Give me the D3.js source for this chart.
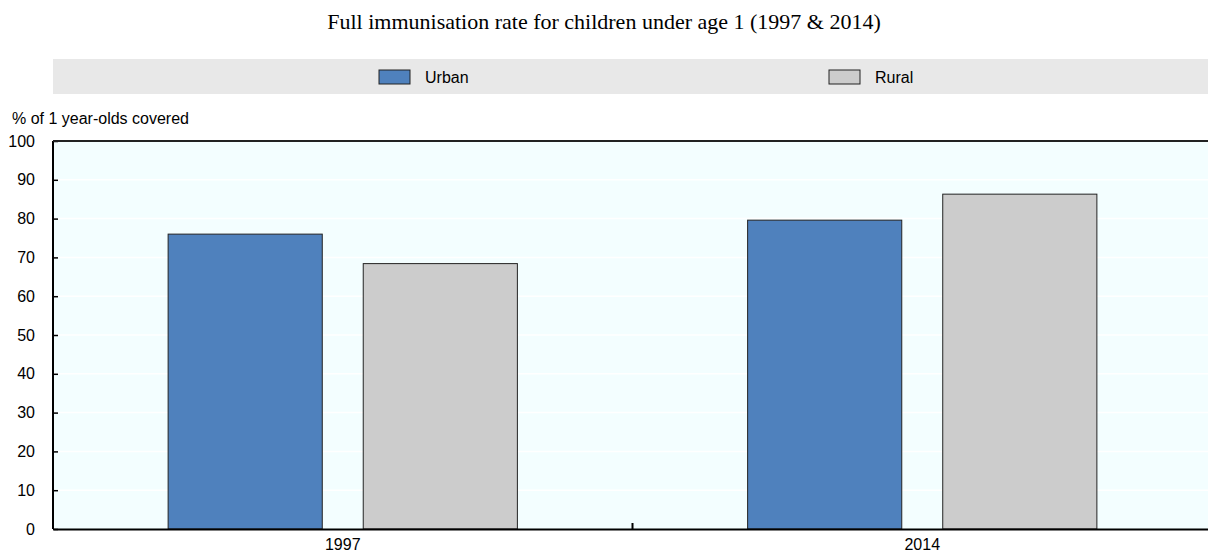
<!DOCTYPE html>
<html>
<head>
<meta charset="utf-8">
<script src="https://cdn.jsdelivr.net/npm/d3@7"></script>
<style>
  body { margin: 0; background: #fff; }
  svg text { font-family: "Liberation Sans", Arial, sans-serif; }
</style>
</head>
<body>
<div id="chart"></div>
<script>
// Data
var years = ["1997", "2014"];
var series = ["Urban", "Rural"];
var urbanValues = [76.0, 79.6];
var ruralValues = [68.4, 86.3];
var yTickValues = [0, 10, 20, 30, 40, 50, 60, 70, 80, 90, 100];

var seriesColors = ["#4f81bd", "#cccccc"];

var W = 1208, H = 556;
var margin = { left: 53, right: -4, top: 141, bottom: 27 };
var width = W - margin.left - margin.right;
var height = H - margin.top - margin.bottom;

var rows = years.map(function (y, i) {
  return { year: y, Urban: urbanValues[i], Rural: ruralValues[i] };
});

const svg = d3.select("#chart")
  .append("svg")
  .attr("width", W)
  .attr("height", H);

// Title
svg.append("text")
  .attr("x", 604)
  .attr("y", 29)
  .attr("text-anchor", "middle")
  .style("font-family", "'Liberation Serif', 'Times New Roman', serif")
  .style("font-size", "22px")
  .text("Full immunisation rate for children under age 1 (1997 & 2014)");

// Legend band
svg.append("rect")
  .attr("x", margin.left)
  .attr("y", 59)
  .attr("width", W - margin.left)
  .attr("height", 35)
  .attr("fill", "#e8e8e8");

var legendX = d3.scaleOrdinal().domain(series).range([379, 829]);
var legend = svg.selectAll(".legend")
  .data(series)
  .enter()
  .append("g")
  .attr("class", "legend")
  .attr("transform", function (d) { return "translate(" + legendX(d) + ",70)"; });

legend.append("rect")
  .attr("width", 31)
  .attr("height", 14)
  .attr("fill", function (d, i) { return seriesColors[i]; })
  .attr("stroke", "#222")
  .attr("stroke-width", 1);

legend.append("text")
  .attr("x", 46)
  .attr("y", 7)
  .attr("dy", "0.35em")
  .style("font-size", "16px")
  .text(function (d) { return d; });

// Y axis title
svg.append("text")
  .attr("x", 12)
  .attr("y", 124)
  .style("font-size", "16px")
  .text("% of 1 year-olds covered");

const g = svg.append("g")
  .attr("transform", `translate(${margin.left},${margin.top})`);

// Scales
const x0 = d3.scaleBand()
  .domain(years)
  .range([0, width])
  .padding(0);

const x1 = d3.scaleBand()
  .domain(series)
  .range([0, x0.bandwidth()])
  .paddingInner(0.21)
  .paddingOuter(0.59);

const yScale = d3.scaleLinear()
  .domain([0, 100])
  .range([height, 0]);

// Plot background
g.append("rect")
  .attr("width", width)
  .attr("height", height)
  .attr("fill", "#f3feff");

// Grid lines
g.selectAll(".grid")
  .data(yTickValues.filter(function (d) { return d > 0 && d < 100; }))
  .enter()
  .append("line")
  .attr("x1", 0)
  .attr("x2", width)
  .attr("y1", function (d) { return yScale(d); })
  .attr("y2", function (d) { return yScale(d); })
  .attr("stroke", "#ffffff")
  .attr("stroke-width", 1.5);

// Bars
var groups = g.selectAll(".year")
  .data(rows)
  .enter()
  .append("g")
  .attr("transform", function (d) { return "translate(" + x0(d.year) + ",0)"; });

groups.selectAll("rect")
  .data(function (d) { return series.map(function (s, i) { return { key: s, value: d[s], color: seriesColors[i] }; }); })
  .enter()
  .append("rect")
  .attr("x", function (d) { return x1(d.key); })
  .attr("width", x1.bandwidth())
  .attr("y", function (d) { return yScale(d.value); })
  .attr("height", function (d) { return height - yScale(d.value); })
  .attr("fill", function (d) { return d.color; })
  .attr("stroke", "#222")
  .attr("stroke-width", 1);

// Y axis
g.append("g")
  .attr("class", "y-axis")
  .call(d3.axisRight(yScale).tickValues(yTickValues).tickSize(5).tickFormat(function (d) { return d; }))
  .call(function (sel) {
    sel.select(".domain").remove();
    sel.selectAll(".tick line").attr("stroke", "#000").attr("stroke-width", 1.5);
    sel.selectAll(".tick text")
      .attr("x", -18)
      .attr("text-anchor", "end")
      .style("font-size", "16px")
      .attr("fill", "#000");
  });

// Frame: left, top, bottom
g.append("line").attr("x1", 0).attr("x2", 0).attr("y1", 0).attr("y2", height)
  .attr("stroke", "#000").attr("stroke-width", 2);
g.append("line").attr("x1", 0).attr("x2", width).attr("y1", 0).attr("y2", 0)
  .attr("stroke", "#222").attr("stroke-width", 2);

// X axis
g.append("g")
  .attr("class", "x-axis")
  .attr("transform", `translate(0,${height})`)
  .call(d3.axisBottom(x0).tickSize(0).tickPadding(10))
  .call(function (sel) {
    sel.select(".domain").attr("stroke", "#000").attr("stroke-width", 2);
    sel.selectAll(".tick text").style("font-size", "16px").attr("fill", "#000");
  });

// Separator tick between categories
g.selectAll(".sep")
  .data(years.slice(1))
  .enter()
  .append("line")
  .attr("x1", function (d) { return x0(d); })
  .attr("x2", function (d) { return x0(d); })
  .attr("y1", height)
  .attr("y2", height - 6)
  .attr("stroke", "#000")
  .attr("stroke-width", 2);
</script>
</body>
</html>
